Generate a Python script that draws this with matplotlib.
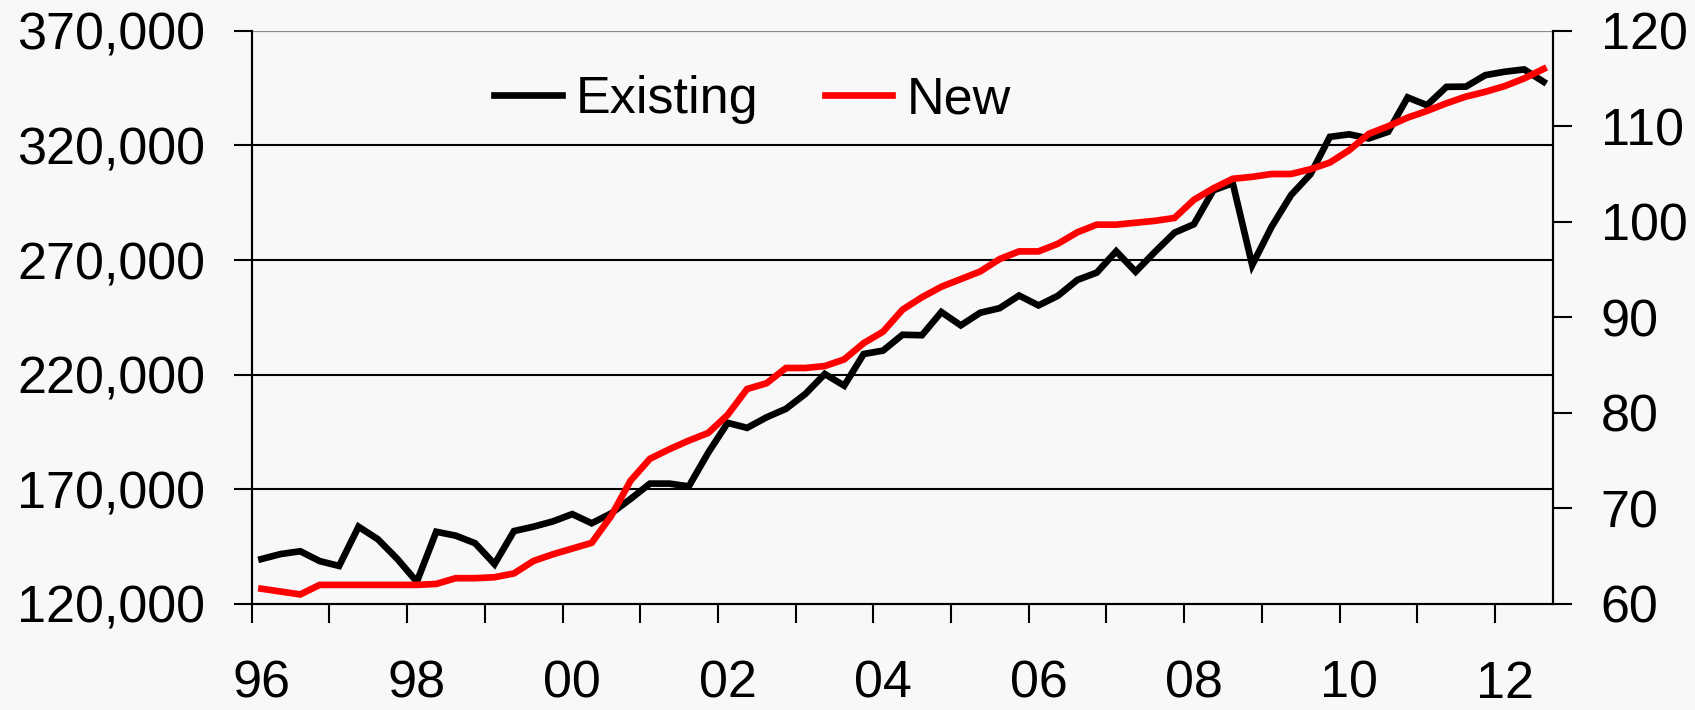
import matplotlib
matplotlib.use('Agg')
import matplotlib.pyplot as plt
from matplotlib.ticker import FixedLocator, FuncFormatter, NullFormatter

# quarterly data, 1996Q1 - 2012Q3
existing = [139600, 141800, 143000, 138700, 136600, 153700, 148200, 139600,
            129700, 151500, 149800, 146500, 137400, 151800, 153700, 156000,
            159200, 155200, 159500, 165800, 172500, 172500, 171300, 186000,
            199000, 196800, 201400, 205100, 211600, 220300, 215200, 229000,
            230500, 237400, 237200, 247300, 241500, 247000, 249000, 254500,
            250200, 254400, 261300, 264500, 273800, 264900, 273600, 281900,
            285600, 300400, 303500, 267800, 284500, 298300, 307400, 323700,
            324800, 323000, 325900, 340900, 337500, 345500, 345600, 350600,
            352100, 353100, 347700]
new = [61.6, 61.3, 61.0, 62.0, 62.0, 62.0, 62.0, 62.0,
       62.0, 62.1, 62.7, 62.7, 62.8, 63.2, 64.5, 65.2,
       65.8, 66.4, 69.2, 72.9, 75.2, 76.2, 77.1, 77.9,
       79.8, 82.5, 83.1, 84.7, 84.7, 84.9, 85.6, 87.3,
       88.5, 90.8, 92.1, 93.2, 94.0, 94.8, 96.1, 96.9,
       96.9, 97.7, 98.9, 99.7, 99.7, 99.9, 100.1, 100.4,
       102.3, 103.5, 104.5, 104.7, 105.0, 105.0, 105.5, 106.2,
       107.5, 109.2, 110.0, 110.9, 111.6, 112.4, 113.1, 113.6,
       114.2, 115.0, 116.0]
year_labels = ['96', '98', '00', '02', '04', '06', '08', '10', '12']
left_ticks = [120000, 170000, 220000, 270000, 320000, 370000]
right_ticks = [60, 70, 80, 90, 100, 110, 120]

bg = '#f8f8f8'
fs = 37.5
plt.rcParams['font.family'] = ['Liberation Sans', 'DejaVu Sans']
plt.rcParams['font.size'] = fs

fig = plt.figure(figsize=(16.95, 7.1), dpi=100, facecolor=bg)
ax = fig.add_axes([0.1485, 0.1493, 0.9164 - 0.1485, 0.9568 - 0.1493])
ax.set_facecolor(bg)
ax2 = ax.twinx()

x = list(range(len(existing)))
ax.plot(x, existing, color='black', lw=4.8, solid_joinstyle='miter', zorder=3, label='Existing')
ax2.plot(x, new, color='#ff0000', lw=4.8, solid_joinstyle='miter', zorder=3, label='New')

ax.set_xlim(-0.5, len(existing) - 0.5)
ax.set_ylim(left_ticks[0], left_ticks[-1])
ax2.set_ylim(right_ticks[0], right_ticks[-1])

# gridlines (top one is grey)
for v in left_ticks[1:-1]:
    ax.axhline(v, color='black', lw=1.5, zorder=1)
ax.axhline(left_ticks[-1], color='#888888', lw=1.6, zorder=1)

ax.yaxis.set_major_locator(FixedLocator(left_ticks))
ax.yaxis.set_major_formatter(FuncFormatter(lambda v, p: f'{int(v):,}'))
ax2.yaxis.set_major_locator(FixedLocator(right_ticks))

# year boundaries as tick marks, labels on first quarter of even years
ax.xaxis.set_major_locator(FixedLocator([-0.5 + 4 * k for k in range(17)]))
ax.xaxis.set_major_formatter(NullFormatter())
ax.xaxis.set_minor_locator(FixedLocator([8 * k for k in range(len(year_labels))]))
ax.xaxis.set_minor_formatter(FuncFormatter(lambda v, p: year_labels[int(v) // 8]))

ax.tick_params(axis='x', which='major', direction='out', length=13.7, width=1.5, color='black')
ax.tick_params(axis='x', which='minor', length=0, pad=40, labelsize=fs)
ax.tick_params(axis='y', which='major', direction='out', length=13, width=1.5, pad=20.5,
               labelsize=fs, right=False)
ax2.tick_params(axis='y', direction='out', length=13.7, width=1.5, pad=20.5, labelsize=fs)

for a in (ax, ax2):
    for s in ('left', 'right', 'bottom'):
        a.spines[s].set_linewidth(1.5)
        a.spines[s].set_color('black')
    a.spines['top'].set_visible(False)

h1, l1 = ax.get_legend_handles_labels()
h2, l2 = ax2.get_legend_handles_labels()
leg = ax2.legend(h1 + h2, l1 + l2, ncol=2, frameon=False, loc='center left',
                 bbox_to_anchor=(494 / 1695, 1 - 99.5 / 710), bbox_transform=fig.transFigure,
                 borderpad=0, borderaxespad=0, handlelength=1.3, handletextpad=0.27,
                 columnspacing=1.27, fontsize=fs)

fig.savefig('out.png', dpi=100, facecolor=bg)
